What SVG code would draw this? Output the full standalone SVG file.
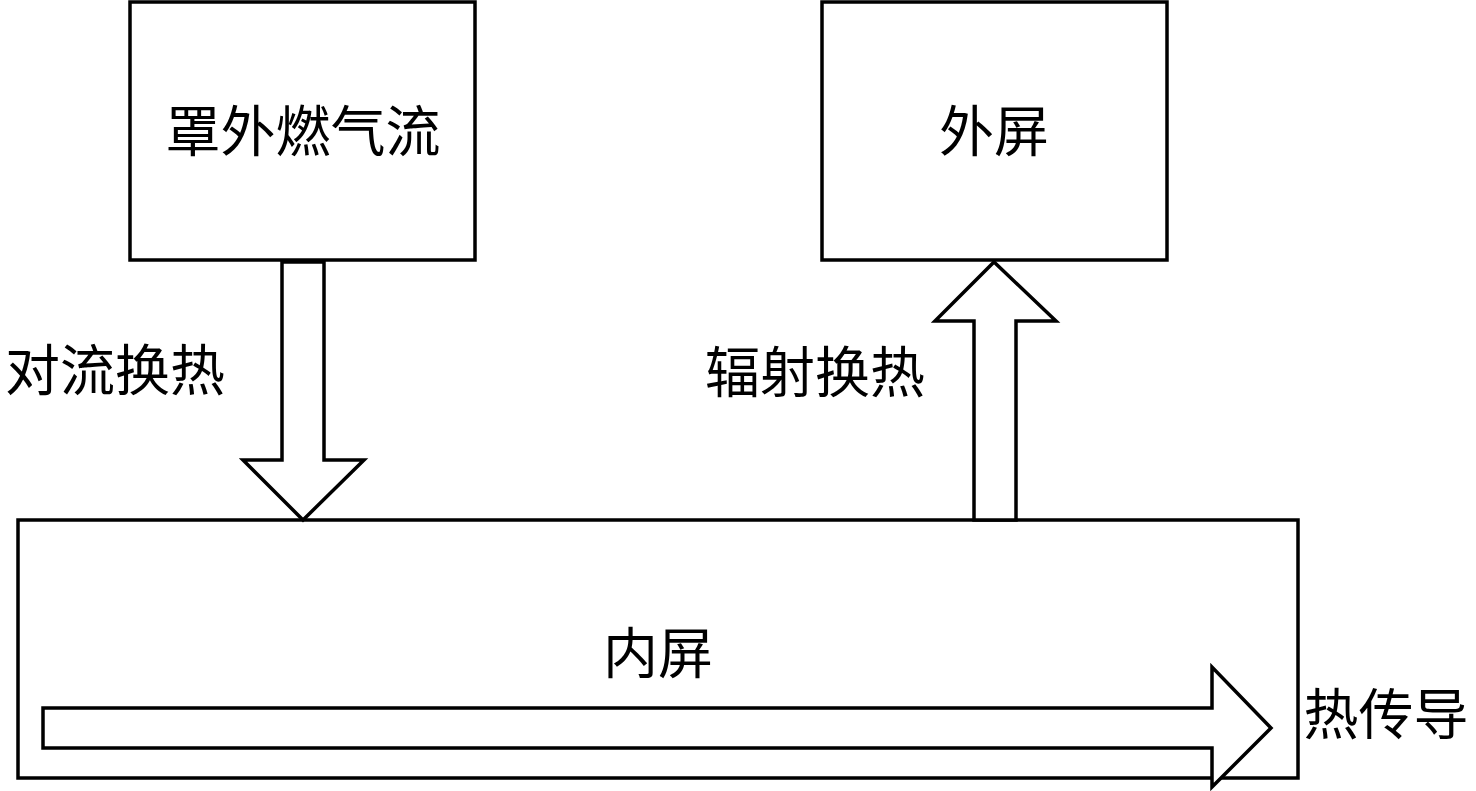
<svg xmlns="http://www.w3.org/2000/svg" width="1476" height="791" viewBox="0 0 1476 791">
<style>
.box{fill:#fff;stroke:#000;stroke-width:3.5}
.arr{fill:#fff;stroke:#000;stroke-width:3.5;stroke-linejoin:miter}
text{font-family:"Noto Sans CJK SC","Liberation Serif",sans-serif;font-size:55px;fill:#000;dominant-baseline:central}
</style>
<rect width="1476" height="791" fill="#fff"/>
<g id="inner-screen">
<rect class="box" x="18" y="520" width="1280" height="258"/>
<text x="658" y="649" text-anchor="middle">内屏</text>
</g>
<g id="gas-flow">
<rect class="box" x="130" y="2" width="345" height="258"/>
<text x="303" y="127" text-anchor="middle">罩外燃气流</text>
</g>
<g id="outer-screen">
<rect class="box" x="822" y="2" width="345" height="258"/>
<text x="994" y="127" text-anchor="middle">外屏</text>
</g>
<g id="connectors">
<polygon class="arr" points="282,262 324,262 324,460 364,460 303,520 243,460 282,460"/>
<polygon class="arr" points="974,520 1016,520 1016,321 1056,321 994,262 935,321 974,321"/>
<polygon class="arr" points="43,708 1212,708 1212,667 1271,728 1212,787 1212,748 43,748"/>
<text x="115" y="366" text-anchor="middle">对流换热</text>
<text x="815" y="368" text-anchor="middle">辐射换热</text>
<text x="1386" y="710" text-anchor="middle">热传导</text>
</g>
</svg>
